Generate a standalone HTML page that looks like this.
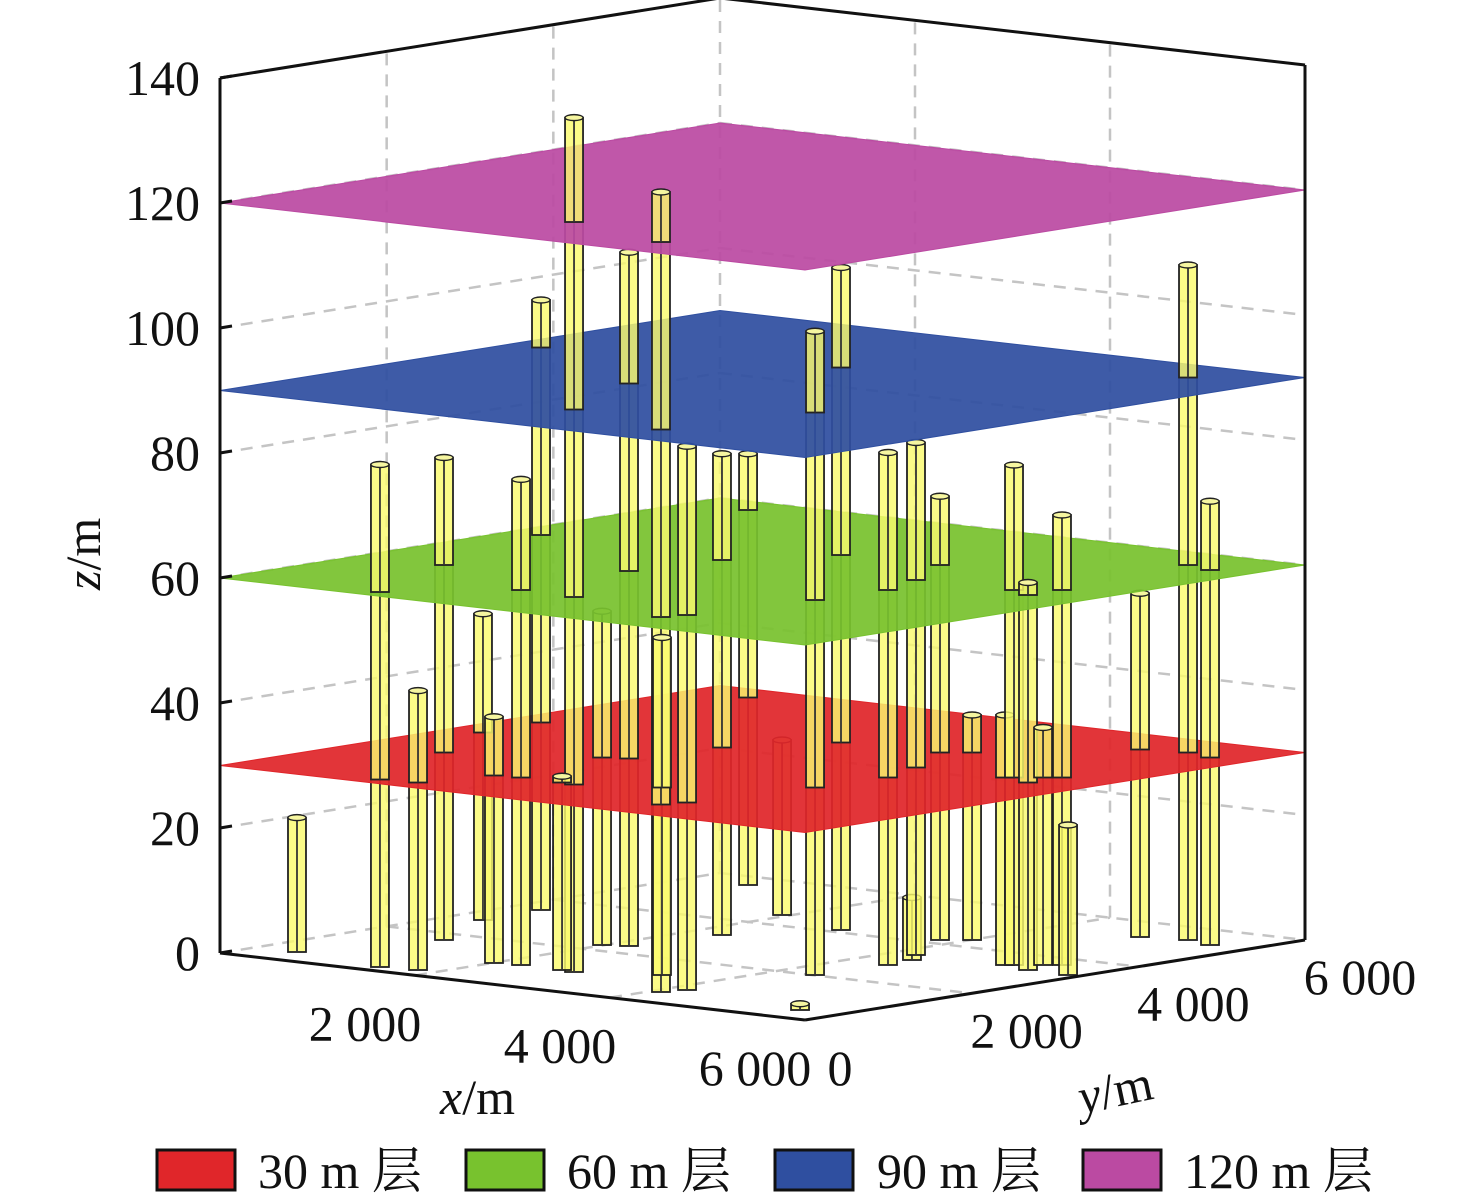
<!DOCTYPE html>
<html><head><meta charset="utf-8">
<style>
html,body{margin:0;padding:0;background:#fff;}
svg{display:block;}
text{font-family:"Liberation Serif","Noto Serif CJK SC",serif;fill:#111;}
</style></head>
<body>
<svg id="chart" width="1476" height="1202" viewBox="0 0 1476 1202" xmlns="http://www.w3.org/2000/svg">
<g id="grid"></g>
<g id="scene"></g>
<g id="axes"></g>
<g id="legend"></g>
</svg>
<script>
const pillarX=[423,1479,1819,853,339,2011,2248,312,2826,2680,1985,2183,4093,4174,3464,2328,616,1940,4379,2853,4441,4398,4235,3818,4010,5141,5195,5465,5368,5481,5891,4902,5301,5619,5597];
const pillarY=[429,189,248,1690,2759,935,982,3487,942,969,2262,2354,503,721,1251,3300,5616,4475,2017,4114,2820,3158,3397,4173,4333,3405,3450,3302,3596,3691,3284,5305,5414,5306,412];
const pillarH=[21.5,80.4,44.7,77.2,49,39.4,77.7,97.6,136.7,31,53.4,111,128,87,54,77,69,28,103,106,82,10,82,71,36,40,80,62,38,72,24,55,108,71,1];
const layerZ=[30,60,90,120];
const layerColors=["#e0262a","#78c22e","#2f4fa0","#bb4aa2"];
const layerLabels=["30 m 层","60 m 层","90 m 层","120 m 层"];
const zTicks=[0,20,40,60,80,100,120,140];
const xTicks=[2000,4000,6000];
const yTicks=[0,2000,4000,6000];

const NS="http://www.w3.org/2000/svg";
const O=[220,953],EX=[585,67],EY=[500,-80],KZ=6.25;
function P(x,y,z){return [O[0]+x/6000*EX[0]+y/6000*EY[0], O[1]+x/6000*EX[1]+y/6000*EY[1]-KZ*z];}
function mk(tag,attrs,parent){const e=document.createElementNS(NS,tag);for(const k in attrs)e.setAttribute(k,attrs[k]);parent.appendChild(e);return e;}
function ln(a,b,st,parent){return mk('line',Object.assign({x1:a[0],y1:a[1],x2:b[0],y2:b[1]},st),parent);}
const grid=document.getElementById('grid'),scene=document.getElementById('scene'),axes=document.getElementById('axes'),legend=document.getElementById('legend');
const dash={stroke:'#c4c4c4','stroke-width':2.5,'stroke-dasharray':'12 9',fill:'none'};
zTicks.forEach(z=>{
  let l=ln(P(0,0,z),P(0,6000,z),dash,grid);
  
  
  let r=ln(P(0,6000,z),P(6000,6000,z),dash,grid);
  
  
});
[2000,4000].forEach(v=>{
  let a=ln(P(0,v,0),P(0,v,140),dash,grid);
  
  
  let b=ln(P(v,6000,0),P(v,6000,140),dash,grid);
  
  
  let c=ln(P(v,0,0),P(v,6000,0),dash,grid);
  
  
  let d=ln(P(0,v,0),P(6000,v,0),dash,grid);
  
  
});
let bv=ln(P(0,6000,0),P(0,6000,140),dash,grid);



const W=9;
function seg(i,z0,z1){
  if(z1<=z0)return;
  const b=P(pillarX[i],pillarY[i],z0),t=P(pillarX[i],pillarY[i],z1);
  const g=mk('g',{},scene);
  
  
  mk('rect',{x:b[0]-W,y:t[1],width:2*W,height:b[1]-t[1],fill:'rgba(250,250,110,0.82)',stroke:'#222','stroke-width':1.8},g);
  ln([b[0],t[1]],[b[0],b[1]],{stroke:'#333','stroke-width':1.8},g);
  if(z1===pillarH[i]) mk('ellipse',{cx:t[0],cy:t[1],rx:W,ry:3,fill:'#f6f6a0',stroke:'#222','stroke-width':1.4},g);
}
const levels=[0].concat(layerZ).concat([200]);
for(let k=0;k<levels.length-1;k++){
  const z0=levels[k],z1=levels[k+1];
  pillarX.forEach((_,i)=>seg(i,z0,Math.min(z1,pillarH[i])));
  if(k<layerZ.length){
    const z=layerZ[k];
    const pts=[P(0,0,z),P(6000,0,z),P(6000,6000,z),P(0,6000,z)].map(p=>p.join(',')).join(' ');
    const pl=mk('polygon',{points:pts,fill:layerColors[k],'fill-opacity':0.93,stroke:layerColors[k],'stroke-width':1},scene);
    
    
  }
}

const bs={stroke:'#111','stroke-width':3,fill:'none'};
[[P(0,0,0),P(6000,0,0)],[P(6000,0,0),P(6000,6000,0)],[P(0,0,0),P(0,0,140)],[P(6000,6000,0),P(6000,6000,140)],[P(0,0,140),P(0,6000,140)],[P(0,6000,140),P(6000,6000,140)]].forEach(s=>{
  const l=ln(s[0],s[1],bs,axes);
  
  
});
zTicks.forEach(z=>{
  const p=P(0,0,z);
  const t=ln(p,[p[0]+12,p[1]-2],{stroke:'#111','stroke-width':3},axes);
  
  
  const tx=mk('text',{x:p[0]-20,y:p[1]+17,'font-size':50,'text-anchor':'end'},axes);
  tx.textContent=String(z);
  
  
});
function fmt(v){return v>=1000?Math.floor(v/1000)+' '+String(v%1000).padStart(3,'0'):String(v);}
xTicks.forEach(v=>{
  const p=P(v,0,0);
  const tx=mk('text',{x:p[0]-50,y:p[1]+65,'font-size':50,'text-anchor':'middle'},axes);
  tx.textContent=fmt(v);
  
  
});
yTicks.forEach(v=>{
  const p=P(6000,v,0);
  const tx=mk('text',{x:p[0]+(v===0?35:55),y:p[1]+(v===0?65:54),'font-size':50,'text-anchor':'middle'},axes);
  tx.textContent=fmt(v);
  
  
});
</script>
<svg style="position:absolute;left:0;top:0" width="1476" height="1202">
<text x="0" y="0" font-size="50" transform="translate(100,590) rotate(-90)" style="font-family:'Liberation Serif',serif"><tspan font-style="italic">z</tspan>/m</text>
<text x="440" y="1114" font-size="50" style="font-family:'Liberation Serif',serif"><tspan font-style="italic">x</tspan>/m</text>
<text x="1082" y="1114" font-size="50" transform="rotate(-12 1082 1114)" style="font-family:'Liberation Serif',serif"><tspan font-style="italic">y</tspan>/m</text>
<g><rect x="157" y="1150" width="78" height="40" fill="#e0262a" stroke="#111" stroke-width="3"/><text x="258" y="1188" font-size="50" style="font-family:'Liberation Serif','Noto Serif CJK SC',serif">30 m 层</text></g>
<g><rect x="466" y="1150" width="78" height="40" fill="#78c22e" stroke="#111" stroke-width="3"/><text x="567" y="1188" font-size="50" style="font-family:'Liberation Serif','Noto Serif CJK SC',serif">60 m 层</text></g>
<g><rect x="775" y="1150" width="78" height="40" fill="#2f4fa0" stroke="#111" stroke-width="3"/><text x="877" y="1188" font-size="50" style="font-family:'Liberation Serif','Noto Serif CJK SC',serif">90 m 层</text></g>
<g><rect x="1083" y="1150" width="78" height="40" fill="#bb4aa2" stroke="#111" stroke-width="3"/><text x="1184" y="1188" font-size="50" style="font-family:'Liberation Serif','Noto Serif CJK SC',serif">120 m 层</text></g>
</svg>
</body></html>
